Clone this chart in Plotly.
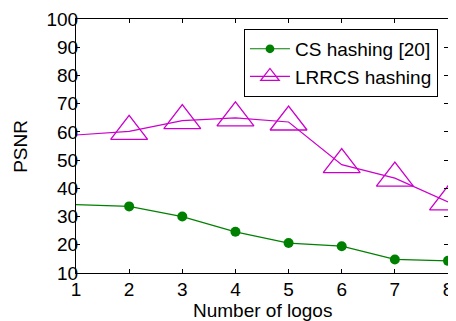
import plotly.graph_objects as go

x_vals = [1, 2, 3, 4, 5, 6, 7, 8]
cs_hashing = [34.2, 33.6, 30.0, 24.6, 20.6, 19.5, 14.8, 14.3]
lrrcs_hashing = [58.9, 60.2, 64.0, 65.0, 63.5, 48.4, 43.6, 35.2]
x_ticks = [1, 2, 3, 4, 5, 6, 7, 8]
y_ticks = [10, 20, 30, 40, 50, 60, 70, 80, 90, 100]

GREEN = "#008000"
MAGENTA = "#CC00CC"
FONT = "Liberation Sans, Arial, sans-serif"

fig = go.Figure()
fig.add_trace(go.Scatter(
    x=x_vals, y=cs_hashing, mode="lines+markers", name="CS hashing [20]",
    line=dict(color=GREEN, width=1.2),
    marker=dict(symbol="circle", color=GREEN, size=[0] + [10] * 7, opacity=1,
                line=dict(width=0)),
    cliponaxis=False,
))
fig.add_trace(go.Scatter(
    x=x_vals, y=lrrcs_hashing, mode="lines+markers", name="LRRCS hashing",
    line=dict(color=MAGENTA, width=1.2),
    marker=dict(symbol="triangle-up-open", color=MAGENTA, size=[0] + [32] * 7, opacity=1,
                line=dict(color=MAGENTA, width=1.3)),
    cliponaxis=False,
))

axis_common = dict(
    showgrid=False, zeroline=False, showline=True, linecolor="black", linewidth=1,
    mirror="ticks", ticks="inside", ticklen=4, tickcolor="black", automargin=False,
    tickfont=dict(family=FONT, size=19, color="black"),
)
fig.update_xaxes(range=[1, 8], tickvals=x_ticks, ticktext=[str(v) for v in x_ticks],
                 ticklabelstandoff=-1, **axis_common)
fig.update_yaxes(range=[10, 100], tickvals=y_ticks, ticktext=[str(v) for v in y_ticks],
                 ticklabelstandoff=-7, **axis_common)

fig.add_annotation(text="Number of logos", xref="paper", yref="paper",
                   x=0.5, y=-0.146, xanchor="center", yanchor="middle", showarrow=False,
                   font=dict(family=FONT, size=19, color="black"))
fig.add_annotation(text="PSNR", xref="paper", yref="paper", textangle=-90,
                   x=-0.151, y=0.5, xanchor="center", yanchor="middle", showarrow=False,
                   font=dict(family=FONT, size=19, color="black"))

# page body adds an 8px offset; compensate in size and margins
fig.update_layout(
    template="none",
    width=448, height=313,
    margin=dict(l=68, r=8, t=11, b=48),
    paper_bgcolor="white", plot_bgcolor="white",
    font=dict(family=FONT, size=19, color="black"),
    showlegend=True,
    legend=dict(x=0.973, y=0.961, xanchor="right", yanchor="top",
                bgcolor="white", bordercolor="black", borderwidth=1,
                font=dict(family=FONT, size=19, color="black"),
                tracegroupgap=0, itemwidth=40),
)

fig.write_html("out.html")
